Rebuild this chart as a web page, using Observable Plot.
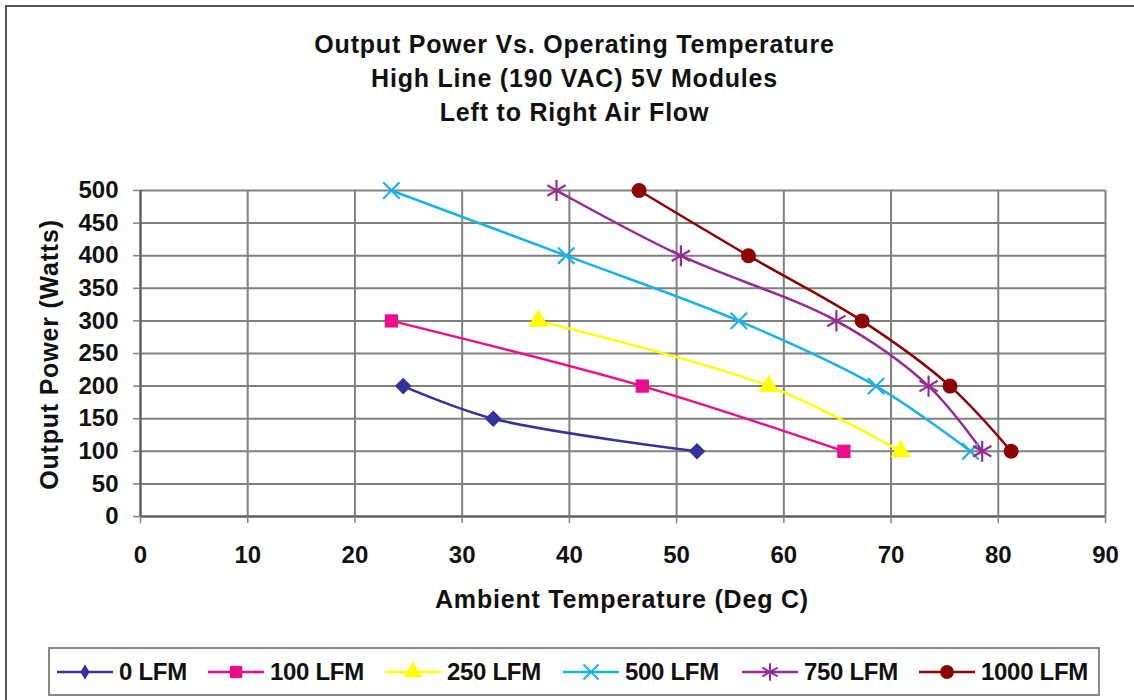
<!DOCTYPE html>
<html>
<head>
<meta charset="utf-8">
<script src="https://cdn.jsdelivr.net/npm/d3@7"></script>
<script src="https://cdn.jsdelivr.net/npm/@observablehq/plot@0.6"></script>
<style>
  html, body { margin: 0; padding: 0; background: #fff; }
  #wrap { position: relative; width: 1134px; height: 700px; overflow: hidden; font-family: "Liberation Sans", Arial, sans-serif; font-weight: bold; color: #111; }
  #frame { position: absolute; left: 5px; top: 5px; width: 1200px; height: 800px; border-left: 2px solid #555; border-top: 2px solid #555; }
  #chart { position: absolute; left: 0; top: 0; }
  .t { position: absolute; white-space: nowrap; font-size: 25px; letter-spacing: 0.8px; }
  #title { left: 15px; width: 1119px; top: 27px; text-align: center; line-height: 34px; }
  #xlab { left: 122px; width: 1000px; top: 584px; text-align: center; line-height: 30px; }
  #ylab { left: -151px; width: 400px; top: 342px; text-align: center; line-height: 25px; transform: rotate(-90deg); transform-origin: 50% 50%; }
  #legend { position: absolute; left: 48px; top: 647px; width: 1048px; height: 45px; border: 2px solid #888; }
  .item { position: absolute; top: 0; height: 45px; display: flex; align-items: center; white-space: nowrap; }
  .item span { font-size: 24px; letter-spacing: -0.3px; margin-left: 6px; white-space: nowrap; }
</style>
</head>
<body>
<div id="wrap">
  <div id="frame"></div>
  <div id="chart"></div>
  <div id="title" class="t">Output Power Vs. Operating Temperature<br>High Line (190 VAC) 5V Modules<br>Left to Right Air Flow</div>
  <div id="xlab" class="t">Ambient Temperature (Deg C)</div>
  <div id="ylab" class="t">Output Power (Watts)</div>
  <div id="legend"></div>
</div>
<script>
// ---- data ----
const seriesNames = ["0 LFM", "100 LFM", "250 LFM", "500 LFM", "750 LFM", "1000 LFM"];
const seriesColors = ["#333399", "#ec0c8c", "#ffff00", "#19b2eb", "#962b96", "#8b0304"];
const seriesSymbols = ["diamond2", "square", "triangle", "times", "asterisk", "circle"];
const seriesFilled = [true, true, true, false, false, true];

const temp0 = [24.5, 32.9, 51.9];
const power0 = [200, 150, 100];
const temp100 = [23.4, 46.8, 65.6];
const power100 = [300, 200, 100];
const temp250 = [37.1, 58.6, 70.9];
const power250 = [300, 200, 100];
const temp500 = [23.4, 39.7, 55.8, 68.6, 77.4];
const power500 = [500, 400, 300, 200, 100];
const temp750 = [38.8, 50.4, 64.9, 73.5, 78.5];
const power750 = [500, 400, 300, 200, 100];
const temp1000 = [46.5, 56.7, 67.3, 75.5, 81.2];
const power1000 = [500, 400, 300, 200, 100];

const xTicks = [0, 10, 20, 30, 40, 50, 60, 70, 80, 90];
const yTicks = [0, 50, 100, 150, 200, 250, 300, 350, 400, 450, 500];

const temps = [temp0, temp100, temp250, temp500, temp750, temp1000];
const powers = [power0, power100, power250, power500, power750, power1000];
const rows = [];
seriesNames.forEach((s, i) => temps[i].forEach((t, j) => rows.push({series: s, t, p: powers[i][j]})));
const filledSet = new Set(seriesNames.filter((s, i) => seriesFilled[i]));

const chart = Plot.plot({
  width: 1134,
  height: 700,
  marginLeft: 140,
  marginRight: 29,
  marginTop: 190,
  marginBottom: 184,
  x: {domain: [0, 90]},
  y: {domain: [0, 500]},
  color: {domain: seriesNames, range: seriesColors},
  symbol: {domain: seriesNames, range: seriesSymbols},
  style: {fontFamily: "Liberation Sans, Arial, sans-serif", fontWeight: "bold", fontSize: "24px", background: "transparent", color: "#111"},
  marks: [
    Plot.gridX(xTicks, {stroke: "#808080", strokeOpacity: 1, strokeWidth: 2}),
    Plot.gridY(yTicks, {stroke: "#808080", strokeOpacity: 1, strokeWidth: 2}),
    Plot.ruleX([0], {stroke: "#5a5a5a", strokeWidth: 2}),
    Plot.ruleY([0], {stroke: "#5a5a5a", strokeWidth: 2}),
    Plot.axisX({ticks: xTicks, tickSize: 7, tickPadding: 22, label: null, stroke: "#808080", fill: "#111", fontSize: 24, strokeWidth: 1.5}),
    Plot.axisY({ticks: yTicks, tickSize: 7, tickPadding: 15, label: null, stroke: "#808080", fill: "#111", fontSize: 24, strokeWidth: 1.5}),
    Plot.line(rows, {x: "t", y: "p", z: "series", stroke: "series", curve: "catmull-rom", strokeWidth: 2.5}),
    Plot.dot(rows.filter(d => filledSet.has(d.series)), {x: "t", y: "p", symbol: "series", fill: "series", stroke: "none", r: 7.5}),
    Plot.dot(rows.filter(d => d.series === "500 LFM"), {x: "t", y: "p", symbol: "series", stroke: "series", fill: "none", r: 7.5, strokeWidth: 2.2}),
    Plot.dot(rows.filter(d => d.series === "750 LFM"), {x: "t", y: "p", symbol: "series", stroke: "series", fill: "none", r: 10, strokeWidth: 2.2})
  ]
});
document.getElementById("chart").appendChild(chart);

// ---- legend ----
const legendLeft = [7, 158, 335, 513, 692, 869];
const symMap = {diamond2: d3.symbolDiamond, square: d3.symbolSquare, triangle: d3.symbolTriangle, times: d3.symbolTimes, asterisk: d3.symbolAsterisk, circle: d3.symbolCircle};
const legend = d3.select("#legend");
seriesNames.forEach((s, i) => {
  const it = legend.append("div").attr("class", "item").style("left", legendLeft[i] + "px");
  const svg = it.append("svg").attr("width", 56).attr("height", 20);
  svg.append("line").attr("x1", 0).attr("x2", 56).attr("y1", 10).attr("y2", 10).attr("stroke", seriesColors[i]).attr("stroke-width", 2.5);
  const size = seriesSymbols[i] === "diamond2" ? 70 : seriesSymbols[i] === "asterisk" ? 220 : 150;
  const path = svg.append("path").attr("transform", "translate(28,10)").attr("d", d3.symbol(symMap[seriesSymbols[i]], size)());
  if (seriesFilled[i]) path.attr("fill", seriesColors[i]);
  else path.attr("fill", "none").attr("stroke", seriesColors[i]).attr("stroke-width", 2);
  it.append("span").text(s);
});
</script>
</body>
</html>
